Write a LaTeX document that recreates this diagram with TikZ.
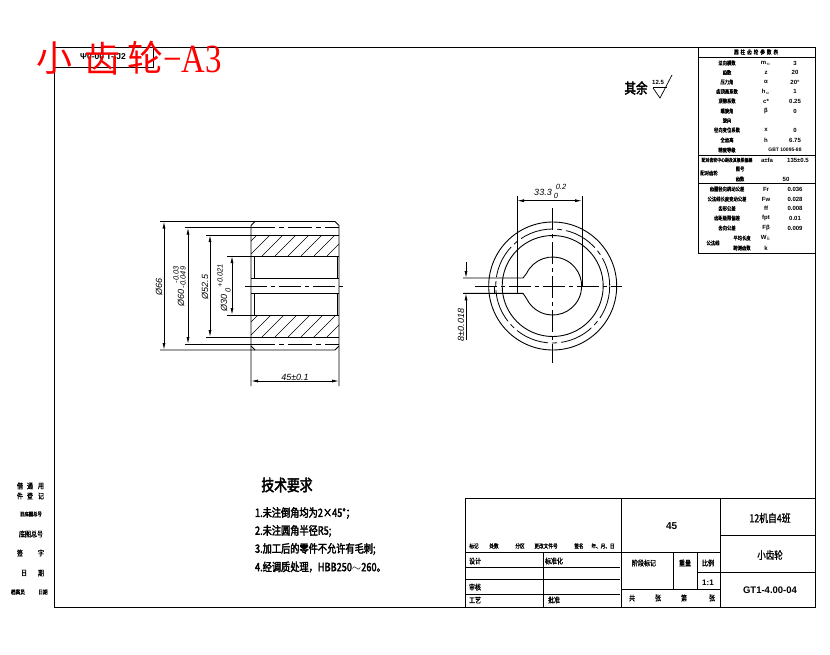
\documentclass[tikz,border=0pt]{standalone}
\usepackage{fontspec}
\usetikzlibrary{arrows.meta}
\setmainfont{Liberation Sans}
\newfontfamily\cjk{Noto Sans CJK SC}
\newfontfamily\cjkb[FakeBold=1.2,FakeStretch=0.8]{Noto Sans CJK SC}
\newfontfamily\cjkc[FakeBold=2.5,FakeStretch=0.8]{Noto Sans CJK SC}
\newfontfamily\serifcjk{Liberation Serif}
\newcounter{lblno}
% \lbl[style]{x,y}{text}: named text node
\newcommand\lbl[3][]{\stepcounter{lblno}\node[txt,#1] (t\arabic{lblno}) at (#2) {#3};}
\newcommand\fs[1]{\fontsize{#1}{#1}\selectfont}
\tikzset{
  txt/.style={inner sep=0pt,outer sep=0pt,font=\cjkb},
  tb/.style={font=\cjkb\fs{5.4}},
  tbl/.style={font=\cjkb\fs{4.9}},
  tk/.style={font=\cjkb\fs{5.8}},
  tm/.style={font=\cjkb\fs{7.5}},
  sym/.style={font=\bfseries\fs{6}},
  req/.style={anchor=west,font=\cjkc\fs{11.5}},
  dimt/.style={font=\itshape\fs{9}},
  dimth/.style={font=\itshape\fs{7.5}},
  ln/.style={line width=0.9pt},
  thin1/.style={line width=0.7pt},
  cen/.style={line width=0.8pt,dash pattern=on 22pt off 4pt on 4pt off 4pt},
  dsh/.style={line width=0.8pt,dash pattern=on 24pt off 4pt on 5pt off 4pt},
  dima/.style={line width=0.8pt,{Latex[length=7pt,width=3pt]}-{Latex[length=7pt,width=3pt]}},
  dimo/.style={line width=0.8pt,-{Latex[length=7pt,width=3pt]}}
}
\begin{document}
\begin{tikzpicture}[x=1pt,y=-1pt]
\useasboundingbox (0,0) rectangle (830,654);
\fill[white] (0,0) rectangle (830,654);
% frame
\draw[ln] (54,47) rectangle (815,607);
\draw[ln] (54,67) -- (153,67) -- (153,47);
\lbl[font=\bfseries\fs{8.5}]{103,57}{Ψ0-00 T-IJ2}
% parameter table
\draw[ln] (698,47) -- (698,253) -- (815,253);
\draw[ln] (698,57) -- (815,57);
\draw[ln] (698,155) -- (815,155);
\draw[ln] (698,183.5) -- (815,183.5);
\lbl[tk]{756,52}{圆\,\,柱\,\,齿\,\,轮\,\,参\,\,数\,\,表}
\lbl[tb]{727,63}{法向模数}\lbl[sym]{766,63}{m$_n$}\lbl[sym]{795,63}{3}
\lbl[tb]{727,72.5}{齿数}\lbl[sym]{766,72.5}{z}\lbl[sym]{795,72.5}{20}
\lbl[tb]{727,82}{压力角}\lbl[sym]{766,82}{α}\lbl[sym]{795,82}{20°}
\lbl[tb]{727,91.5}{齿顶高系数}\lbl[sym]{766,91.5}{h$_a$}\lbl[sym]{795,91.5}{1}
\lbl[tb]{727,101}{顶隙系数}\lbl[sym]{766,101}{c*}\lbl[sym]{795,101}{0.25}
\lbl[tb]{727,111}{螺旋角}\lbl[sym]{766,111}{β}\lbl[sym]{795,111}{0}
\lbl[tb]{727,120.5}{旋向}
\lbl[tb]{727,130}{径向变位系数}\lbl[sym]{766,130}{x}\lbl[sym]{795,130}{0}
\lbl[tb]{727,140}{全齿高}\lbl[sym]{766,140}{h}\lbl[sym]{795,140}{6.75}
\lbl[tb]{727,150}{精度等级}\lbl[font=\bfseries\fs{5}]{785,150}{GBT 10095-88}
\lbl[tbl]{727,160}{配对齿轮中心距及其极限偏差}\lbl[sym]{767,160}{a±fa}\lbl[sym]{798,160}{135±0.5}
\lbl[tb]{709,173}{配对齿轮}\lbl[tb]{740,169}{图号}
\lbl[tb]{740,179}{齿数}\lbl[sym]{786,179}{50}
\lbl[tb]{727,189}{齿圈径向跳动公差}\lbl[sym]{766,189}{Fr}\lbl[sym]{795,189}{0.036}
\lbl[tb]{727,199}{公法线长度变动公差}\lbl[sym]{766,199}{Fw}\lbl[sym]{795,199}{0.028}
\lbl[tb]{727,208.5}{齿形公差}\lbl[sym]{766,208.5}{ff}\lbl[sym]{795,208.5}{0.008}
\lbl[tb]{727,218}{齿距极限偏差}\lbl[sym]{766,218}{fpt}\lbl[sym]{795,218}{0.01}
\lbl[tb]{727,228}{齿向公差}\lbl[sym]{766,228}{Fβ}\lbl[sym]{795,228}{0.009}
\lbl[tb]{713,243}{公法线}\lbl[tb]{742,238}{平均长度}\lbl[sym]{766,238}{W$_k$}
\lbl[tb]{742,248}{跨测齿数}\lbl[sym]{766,248}{k}
% roughness
\lbl[font=\cjkc\fs{14.4}]{636,88}{其余}
\lbl[font=\bfseries\fs{6}]{658,82}{12.5}
\draw[thin1] (653,87) -- (667,87);
\draw[thin1] (653,88) -- (660,98) -- (672,75);
% left view
\begin{scope}
\clip (251,235) rectangle (339,256) (251,315) rectangle (339,337);
\foreach \k in {236,249,...,340}{
  \draw[line width=0.6pt] (\k,256) -- (\k+21,235);
  \draw[line width=0.6pt] (\k,337) -- (\k+22,315);
}
\end{scope}
\draw[ln] (160,221.5) -- (255,221.5) -- (335,221.5) -- (339,225.5) -- (339,386);
\draw[ln] (251,386) -- (251,225.5) -- (255,221.5);
\draw[ln] (160,350) -- (255,350) -- (335,350) -- (339,346);
\draw[ln] (251,346) -- (255,350);
\draw[dsh] (251,227.7) -- (339,227.7);
\draw[dsh] (251,344) -- (339,344);
\draw[thin1] (185,227.7) -- (251,227.7);
\draw[thin1] (185,344) -- (251,344);
\draw[ln] (206,235) -- (339,235);
\draw[ln] (206,337) -- (339,337);
\draw[ln] (227,256) -- (339,256);
\draw[ln] (227,315) -- (339,315);
\draw[ln] (251,278) -- (339,278);
\draw[ln] (251,293) -- (339,293);
\draw[thin1] (254,256) -- (254,278) (254,293) -- (254,315);
\draw[thin1] (337,256) -- (337,278) (337,293) -- (337,315);
\draw[cen] (245,286) -- (346,286);
\draw[dima] (164,221.5) -- (164,350);
\draw[dima] (188,227.7) -- (188,344);
\draw[dima] (210,235) -- (210,337);
\draw[dima] (232,256) -- (232,315);
\draw[dima] (251,381) -- (339,381);
\lbl[dimt,rotate=90]{159,287}{Ø66}
\lbl[dimt,rotate=90,anchor=west]{181,306}{Ø60}
\lbl[dimth,rotate=90,anchor=west]{183,288}{-0.049}
\lbl[dimth,rotate=90,anchor=west]{176,283}{-0.03}
\lbl[dimt,rotate=90]{205,287}{Ø52.5}
\lbl[dimt,rotate=90,anchor=west]{224,311}{Ø30}
\lbl[dimth,rotate=90,anchor=west]{220,287}{+0.021}
\lbl[dimth,rotate=90]{228,290}{0}
\lbl[dimt]{295,377}{45±0.1}
% right view
\draw[ln] (552.7,286) circle (64);
\draw[line width=0.8pt,dash pattern=on 34pt off 4pt on 5pt off 4pt] (552.7,286) circle (57);
\draw[ln] (552.7,286) circle (50.5);
\draw[ln] (526.6,273.3) arc[start angle=-154,end angle=154,radius=29];
\draw[cen] (475,286) -- (622,286);
\draw[cen] (552.7,208) -- (552.7,363);
\draw[ln] (463,278) -- (523,278) -- (526.6,273.3);
\draw[ln] (463,293.3) -- (523,293.3) -- (526.6,298.7);
\draw[ln] (517,196) -- (517,293.3);
\draw[ln] (582,196) -- (582,286);
\draw[thin1] (494,286) -- (494,293.3);
\draw[dima] (517,200.7) -- (582,200.7);
\lbl[dimt]{543,192}{33.3}
\lbl[dimth]{561,187}{0.2}
\lbl[dimth]{556,196}{0}
\draw[dimo] (466,262) -- (466,278);
\draw[dimo] (466,340) -- (466,293.3);
\lbl[dimt,rotate=90]{461,325}{8±0.018}
% left stamps
\lbl[tm]{20,486}{借}\lbl[tm]{30,486}{通}\lbl[tm]{41,486}{用}
\lbl[tm]{20,496}{件}\lbl[tm]{30,496}{登}\lbl[tm]{41,496}{记}
\lbl[tb]{31,514}{旧底图总号}
\lbl[tm]{31,534}{底图总号}
\lbl[tm]{20,553}{签}\lbl[tm]{41,553}{字}
\lbl[tm]{24,573}{日}\lbl[tm]{41,573}{期}
\lbl[tk]{18,592}{档案员}\lbl[tk]{43,592}{日期}
% technical requirements
\lbl[font=\cjkc\fs{16}]{287,485}{技术要求}
\lbl[req]{255,513}{1.未注倒角均为2×45°；}
\lbl[req]{255,531}{2.未注圆角半径R5;}
\lbl[req]{255,549}{3.加工后的零件不允许有毛刺;}
\lbl[req]{255,567}{4.经调质处理，HBB250$\sim$260。}
% title block
\draw[ln] (465,607) -- (465,498) -- (815,498);
\draw[ln] (465,552) -- (720,552);
\draw[ln] (465,567) -- (620,567);
\draw[ln] (465,579) -- (620,579);
\draw[ln] (465,594) -- (620,594);
\draw[ln] (543,552) -- (543,607);
\draw[ln] (621,498) -- (621,607);
\draw[ln] (720,498) -- (720,607);
\draw[ln] (720,535.6) -- (815,535.6);
\draw[ln] (720,572.5) -- (815,572.5);
\draw[ln] (621,589) -- (720,589);
\draw[ln] (673,552) -- (673,589);
\draw[ln] (697,552) -- (697,589);
\draw[ln] (697,572.5) -- (720,572.5);
\lbl[tk]{474,546}{标记}\lbl[tk]{494,546}{处数}\lbl[tk]{520,546}{分区}
\lbl[tk]{546,546}{更改文件号}\lbl[tk]{579,546}{签名}\lbl[tk]{603,546}{年、月、日}
\lbl[tm]{475,561}{设计}\lbl[tm]{554,561}{标准化}
\lbl[tm]{475,587}{审核}\lbl[tm]{475,600}{工艺}\lbl[tm]{554,600}{批准}
\lbl[font=\bfseries\fs{10}]{671.6,526}{45}
\lbl[font=\cjkb\fs{11}]{770,518}{12机自4班}
\lbl[font=\cjkb\fs{10.6}]{770,555}{小齿轮}
\lbl[font=\bfseries\fs{9.5}]{770,590}{GT1-4.00-04}
\lbl[tm]{644,563}{阶段标记}
\lbl[tm]{685,563}{重量}
\lbl[tm]{708,563}{比例}
\lbl[font=\bfseries\fs{8}]{708,583}{1:1}
\lbl[tm]{632,598}{共}\lbl[tm]{658,598}{张}\lbl[tm]{684,598}{第}\lbl[tm]{712,598}{张}
% red title
\lbl[font=\cjk\fs{36},text=red]{54,58}{小}
\lbl[font=\cjk\fs{36},text=red]{102,59}{齿}
\lbl[font=\cjk\fs{36},text=red]{145,58}{轮}
\lbl[font=\serifcjk\fs{40},text=red]{192.5,59}{\scalebox{0.82}[1]{−A3}}
\end{tikzpicture}
\end{document}
